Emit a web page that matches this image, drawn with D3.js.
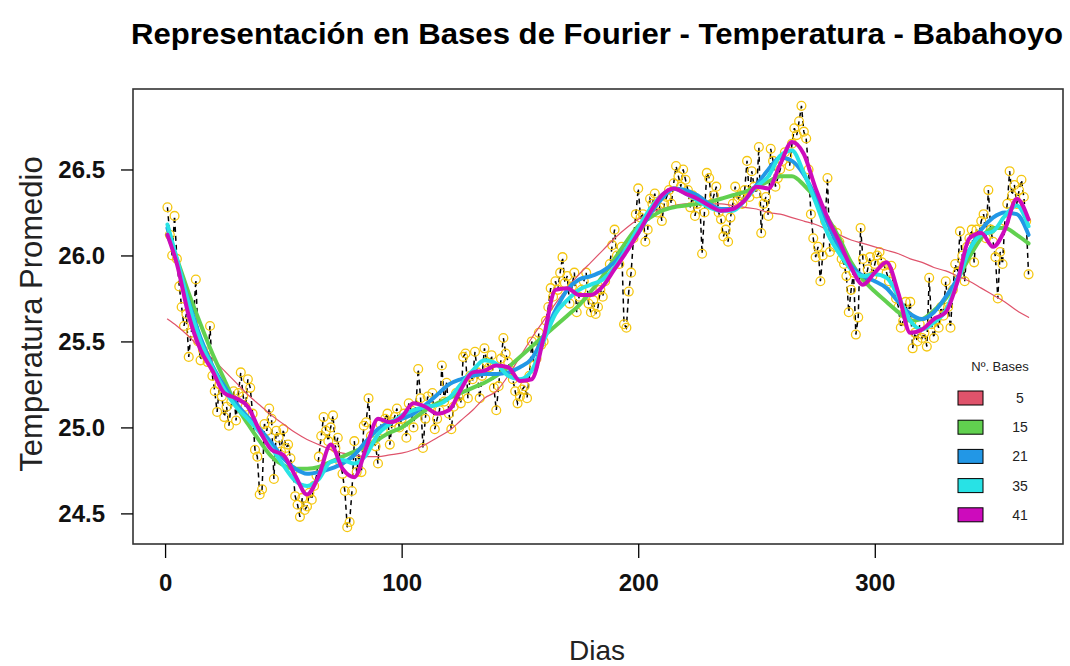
<!DOCTYPE html>
<html><head><meta charset="utf-8">
<script src="https://cdn.jsdelivr.net/npm/d3@7"></script>
<style>body{margin:0;background:#fff}svg{display:block}</style>
</head><body><svg id="c" width="1070" height="666"></svg>
<script>
// Daily mean temperature (day 1..365)
const temps = [
26.28,26.12,26.00,26.23,25.98,25.82,25.70,25.59,25.66,25.41,
25.55,25.62,25.86,25.50,25.39,25.45,25.42,25.38,25.59,25.30,
25.21,25.09,25.25,25.18,25.06,25.12,25.01,25.15,25.21,25.04,
25.20,25.32,25.18,25.12,25.28,25.23,25.08,24.87,24.83,24.61,
24.64,25.02,24.98,25.11,25.05,24.70,24.98,24.94,24.86,24.99,
24.88,24.90,24.82,24.75,24.60,24.55,24.48,24.59,24.52,24.54,
24.62,24.58,24.66,24.72,24.83,24.95,25.06,24.98,24.92,25.00,
25.07,24.88,24.94,24.80,24.73,24.63,24.42,24.45,24.63,24.92,
24.74,24.85,24.74,25.01,25.03,25.17,24.95,24.92,24.89,24.79,
25.02,24.98,25.05,25.08,24.90,25.03,25.06,25.11,25.00,25.05,
25.08,24.94,25.14,25.10,25.00,25.12,25.34,25.17,24.88,25.05,
25.18,25.12,25.20,24.99,25.05,25.10,25.36,25.15,25.26,25.08,
24.99,25.12,25.20,25.18,25.14,25.41,25.43,25.17,25.30,25.28,
25.44,25.32,25.17,25.30,25.46,25.38,25.35,25.42,25.23,25.10,
25.24,25.40,25.52,25.43,25.38,25.33,25.28,25.21,25.14,25.18,
25.22,25.24,25.17,25.30,25.50,25.36,25.40,25.55,25.48,25.50,
25.62,25.70,25.81,25.76,25.85,25.80,25.90,25.99,25.84,25.88,
25.72,25.82,25.90,25.67,25.76,25.80,25.85,25.90,25.72,25.67,
25.74,25.66,25.70,25.80,25.76,25.85,25.90,25.95,26.06,26.15,
26.00,25.95,26.05,25.60,25.58,25.79,25.90,26.10,26.24,26.39,
26.22,26.24,26.08,26.15,26.33,26.30,26.36,26.25,26.28,26.20,
26.30,26.34,26.38,26.30,26.42,26.52,26.46,26.40,26.50,26.44,
26.38,26.28,26.35,26.23,26.30,26.32,26.01,26.25,26.48,26.45,
26.30,26.35,26.40,26.25,26.21,26.11,26.15,26.08,26.22,26.30,
26.40,26.32,26.35,26.30,26.38,26.55,26.34,26.49,26.40,26.36,
26.63,26.13,26.30,26.34,26.23,26.62,26.55,26.40,26.45,26.50,
26.55,26.60,26.58,26.52,26.65,26.74,26.70,26.78,26.87,26.72,
26.68,26.50,26.24,26.10,25.99,26.05,25.85,26.00,26.20,26.45,
26.02,26.15,26.05,26.13,26.08,25.98,25.95,25.88,25.67,25.80,
25.90,25.54,25.64,26.16,25.98,25.85,25.92,25.99,25.88,25.95,
26.00,26.02,25.96,25.94,25.90,25.85,25.94,25.80,25.75,25.70,
25.58,25.62,25.73,25.65,25.73,25.46,25.55,25.50,25.60,25.52,
25.55,25.47,25.87,25.60,25.52,25.62,25.58,25.70,25.65,25.85,
25.70,25.58,25.80,25.95,25.90,26.14,26.00,25.85,26.05,26.10,
26.15,25.96,26.15,26.12,26.20,26.24,26.10,26.38,26.15,26.08,
25.99,25.75,26.02,25.95,26.20,26.30,26.49,26.35,26.41,26.30,
26.38,26.44,26.34,26.20,25.89];

// Fourier fits sampled on a day grid
const curveDays = [1,5,10,15,20,25,30,35,40,45,50,55,60,65,70,75,80,85,90,95,100,
105,110,115,120,125,130,135,140,145,150,155,160,165,170,175,180,185,190,195,200,
205,210,215,220,225,230,235,240,245,250,255,260,265,270,275,280,285,290,295,300,
305,310,315,320,325,330,335,340,345,350,355,360,365];

const fit5 = [25.63,25.59,25.53,25.46,25.40,25.33,25.26,25.19,25.13,25.07,25.02,24.97,24.93,24.90,24.87,24.85,24.84,24.83,24.83,24.84,24.85,
24.87,24.90,24.94,24.98,25.04,25.10,25.17,25.21,25.30,25.41,25.52,25.62,25.72,25.81,25.89,25.96,26.03,26.10,26.16,26.21,
26.25,26.27,26.29,26.30,26.30,26.30,26.30,26.29,26.28,26.27,26.25,26.24,26.22,26.20,26.18,26.15,26.12,26.09,26.07,26.05,
26.03,26.01,25.98,25.96,25.93,25.91,25.88,25.85,25.81,25.77,25.73,25.68,25.64];

const fit15 = [26.12,25.98,25.78,25.60,25.43,25.28,25.13,25.02,24.92,24.83,24.78,24.76,24.76,24.77,24.80,24.83,24.86,24.89,24.93,24.97,25.00,
25.05,25.10,25.14,25.17,25.20,25.23,25.26,25.30,25.35,25.41,25.47,25.53,25.59,25.65,25.71,25.79,25.88,25.98,26.08,26.17,
26.22,26.26,26.28,26.29,26.30,26.31,26.33,26.35,26.37,26.40,26.43,26.46,26.46,26.41,26.33,26.22,26.10,25.96,25.86,25.79,
25.73,25.67,25.62,25.63,25.68,25.75,25.86,25.99,26.10,26.16,26.16,26.12,26.07];

const fit21 = [26.16,25.97,25.73,25.52,25.36,25.24,25.14,25.06,24.99,24.91,24.82,24.76,24.73,24.74,24.76,24.79,24.84,24.92,24.99,25.03,25.05,
25.08,25.13,25.19,25.25,25.28,25.30,25.31,25.31,25.32,25.35,25.40,25.53,25.68,25.80,25.86,25.88,25.91,25.96,26.04,26.13,
26.24,26.33,26.39,26.38,26.35,26.30,26.27,26.27,26.32,26.41,26.50,26.57,26.55,26.47,26.34,26.19,26.04,25.94,25.88,25.85,
25.81,25.73,25.66,25.63,25.67,25.76,25.87,26.03,26.15,26.22,26.25,26.24,26.12];

const fit35 = [26.18,25.98,25.72,25.50,25.35,25.22,25.12,25.05,24.97,24.88,24.78,24.69,24.66,24.70,24.80,24.81,24.79,24.84,24.96,25.02,25.07,
25.10,25.12,25.13,25.17,25.25,25.33,25.39,25.37,25.30,25.28,25.33,25.50,25.66,25.74,25.80,25.83,25.86,25.93,26.04,26.16,
26.27,26.35,26.39,26.36,26.32,26.28,26.26,26.26,26.32,26.40,26.46,26.58,26.61,26.48,26.31,26.13,26.01,25.92,25.88,25.89,
25.87,25.76,25.62,25.57,25.61,25.68,25.85,26.03,26.12,26.14,26.23,26.29,26.17];

const fit41 = [26.12,25.95,25.65,25.45,25.33,25.20,25.17,25.12,24.98,24.87,24.84,24.72,24.61,24.72,24.90,24.76,24.71,24.88,25.05,25.03,25.06,
25.14,25.12,25.08,25.10,25.22,25.32,25.33,25.36,25.35,25.27,25.28,25.52,25.80,25.81,25.77,25.77,25.82,25.92,26.02,26.13,
26.25,26.35,26.39,26.36,26.33,26.29,26.26,26.27,26.32,26.40,26.39,26.53,26.66,26.59,26.39,26.22,26.08,25.93,25.83,25.90,
25.96,25.78,25.55,25.57,25.63,25.67,25.85,26.10,26.13,26.05,26.15,26.33,26.21];

const basesLabels = ["5","15","21","35","41"];
const xTickValues = [0,100,200,300];
const yTickValues = [24.5,25.0,25.5,26.0,26.5];

// ---------------- drawing ----------------
const fits = [fit5, fit15, fit21, fit35, fit41];
const colors = ["#DF536B","#61D04F","#2297E6","#28E2E5","#CD0BBC"];
const widths = [1.2,4,4,4,4];
const FONT = "'Liberation Sans', Arial, sans-serif";

const svg = d3.select("#c");
const L = 133, R = 1063, T = 89, B = 544;
const days = d3.range(1, temps.length + 1);

const xr = d3.extent(days), yr = d3.extent(temps);
const xp = (xr[1]-xr[0])*0.04, yp = (yr[1]-yr[0])*0.04;
const x = d3.scaleLinear().domain([xr[0]-xp, xr[1]+xp]).range([L, R]);
const y = d3.scaleLinear().domain([yr[0]-yp, yr[1]+yp]).range([B, T]);

const g = svg.append("g");

// observed series: dashed line + circles
g.append("path")
  .datum(days.map((d,i)=>[d,temps[i]]))
  .attr("fill","none").attr("stroke","#000").attr("stroke-width",1.5)
  .attr("stroke-dasharray","5,4")
  .attr("d", d3.line().x(d=>x(d[0])).y(d=>y(d[1])));

g.selectAll("circle.pt").data(temps).join("circle")
  .attr("class","pt")
  .attr("cx",(d,i)=>x(days[i])).attr("cy",d=>y(d))
  .attr("r",4.4).attr("fill","none")
  .attr("stroke","#F5C710").attr("stroke-width",1.3);

// Fourier fits
fits.forEach((f,k)=>{
  g.append("path")
    .datum(curveDays.map((d,i)=>[d,f[i]]))
    .attr("fill","none").attr("stroke",colors[k]).attr("stroke-width",widths[k])
    .attr("stroke-linejoin","round").attr("stroke-linecap","round")
    .attr("d", d3.line().curve(d3.curveMonotoneX).x(d=>x(d[0])).y(d=>y(d[1])));
});

// box
svg.append("rect").attr("x",L).attr("y",T).attr("width",R-L).attr("height",B-T)
  .attr("fill","none").attr("stroke","#333").attr("stroke-width",1.6);

// axes
const xAxis = d3.axisBottom(x).tickValues(xTickValues).tickFormat(d3.format("d")).tickSize(14).tickPadding(16);
const xg = svg.append("g").attr("transform",`translate(0,${B})`).call(xAxis);
xg.select(".domain").remove();
xg.selectAll("line").attr("stroke","#000").attr("stroke-width",1.3);
xg.selectAll("text").attr("font-family",FONT).attr("font-size",24).attr("font-weight","bold").attr("fill","#111");

const yAxis = d3.axisLeft(y).tickValues(yTickValues).tickFormat(d3.format(".1f")).tickSize(12).tickPadding(16);
const yg = svg.append("g").attr("transform",`translate(${L},0)`).call(yAxis);
yg.select(".domain").remove();
yg.selectAll("line").attr("stroke","#000").attr("stroke-width",1.3);
yg.selectAll("text").attr("font-family",FONT).attr("font-size",24).attr("font-weight","bold").attr("fill","#111");

// titles
svg.append("text").attr("x",597).attr("y",44).attr("text-anchor","middle")
  .attr("font-family",FONT).attr("font-size",29).attr("font-weight","bold")
  .attr("textLength",932).attr("lengthAdjust","spacingAndGlyphs")
  .text("Representación en Bases de Fourier - Temperatura - Babahoyo");

svg.append("text").attr("x",597).attr("y",660).attr("text-anchor","middle")
  .attr("font-family",FONT).attr("font-size",28).attr("fill","#222")
  .text("Dias");

svg.append("text").attr("transform","translate(42,314) rotate(-90)").attr("text-anchor","middle")
  .attr("font-family",FONT).attr("font-size",31).attr("fill","#222")
  .text("Temperatura Promedio");

// legend
const lg = svg.append("g");
lg.append("text").attr("x",1000).attr("y",371).attr("text-anchor","middle")
  .attr("font-family",FONT).attr("font-size",13).attr("fill","#222").text("Nº. Bases");
basesLabels.forEach((lab,i)=>{
  const yy = 391 + i*29.2;
  lg.append("rect").attr("x",958).attr("y",yy).attr("width",25).attr("height",14)
    .attr("fill",colors[i]).attr("stroke","#000").attr("stroke-width",1);
  lg.append("text").attr("x",1020).attr("y",yy+12).attr("text-anchor","middle")
    .attr("font-family",FONT).attr("font-size",14).attr("fill","#222").text(lab);
});
</script></body></html>
